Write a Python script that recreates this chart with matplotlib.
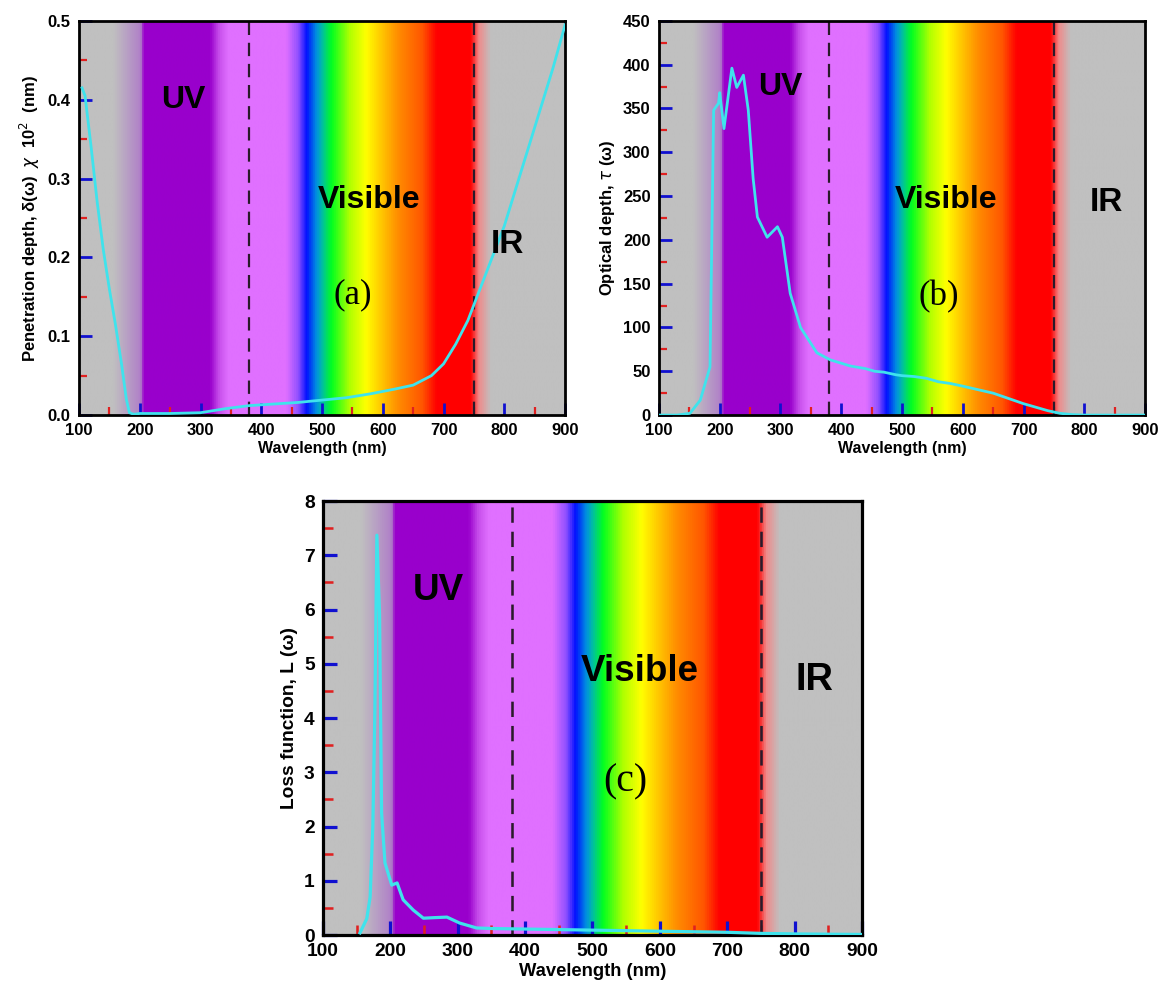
import numpy as np
import matplotlib
matplotlib.use("Agg")
import matplotlib.pyplot as plt
from matplotlib.colors import LinearSegmentedColormap
from matplotlib.ticker import MultipleLocator, FormatStrFormatter

plt.rcParams['font.family'] = ['Liberation Sans', 'DejaVu Sans']

# panel (a): penetration depth
wl_a = [105, 110, 120, 130, 140, 150, 160, 170, 178, 183, 190, 200, 250, 300, 340,
        380, 420, 460, 500, 540, 580, 620, 650, 680, 700, 720, 740, 760, 780, 800,
        820, 840, 860, 880, 900]
pd_a = [0.415, 0.405, 0.34, 0.27, 0.21, 0.16, 0.115, 0.065, 0.02, 0.003, 0.001, 0.002,
        0.002, 0.003, 0.008, 0.012, 0.014, 0.016, 0.019, 0.022, 0.027, 0.033, 0.038,
        0.05, 0.065, 0.09, 0.12, 0.16, 0.2, 0.24, 0.29, 0.34, 0.39, 0.44, 0.495]

# panel (b): optical depth
wl_b = [100, 130, 151, 168, 184, 190, 198, 200, 207, 220, 228, 239, 247, 255, 262, 278,
        295, 303, 316, 333, 360, 382, 415, 440, 455, 470, 490, 500, 520, 540, 560, 580,
        600, 650, 700, 740, 760, 780, 800, 900]
od_b = [0, 0, 2, 17, 55, 348, 356, 368, 327, 396, 374, 388, 348, 270, 226, 203, 215, 203,
        139, 100, 71, 63, 56, 53, 50, 49, 46, 45, 44, 42, 38, 36, 33, 25, 13, 5, 2, 0.5,
        0, 0]

# panel (c): loss function
wl_c = [155, 165, 170, 174, 177, 180, 184, 187, 192, 202, 210, 219, 234, 249, 265, 284,
        303, 328, 350, 400, 500, 600, 700, 750, 800, 900]
lf_c = [0.04, 0.3, 0.7, 2.0, 4.1, 7.37, 5.9, 2.25, 1.33, 0.92, 0.96, 0.65, 0.46, 0.31,
        0.32, 0.33, 0.22, 0.13, 0.12, 0.11, 0.09, 0.07, 0.05, 0.03, 0.02, 0.01]

# spectrum background stops (nm, colour)
spec_nm = [100, 155, 200, 205, 315, 330, 345, 440, 460, 474, 490, 500, 515, 545, 572,
           595, 625, 665, 688, 745, 758, 778, 900]
spec_col = ['#c0c0c0', '#c0c0c0', '#b080c8', '#9900cc', '#9900cc', '#c850ec', '#e070ff',
            '#e070ff', '#9050ff', '#0010ff', '#0090e0', '#00c0a0', '#00ff20', '#b0ff00',
            '#ffff00', '#ffcc00', '#ff8c00', '#ff5500', '#ff0000', '#ff0000', '#f08a8a',
            '#c0c0c0', '#c0c0c0']

cmap = LinearSegmentedColormap.from_list(
    'spec', [((n - 100) / 800, c) for n, c in zip(spec_nm, spec_col)])
grad = np.linspace(0, 1, 1600).reshape(1, -1)


def panel(rect, x, y, ymax, ymaj, ylabel, fmt, texts, k=1.0):
    ax = fig.add_axes(rect)
    ax.imshow(grad, cmap=cmap, aspect='auto', extent=[100, 900, 0, ymax], zorder=0)
    for xv in (380, 750):
        ax.axvline(xv, color='#2a1a2a', ls=(0, (6, 3.5)), lw=1.6 * k, zorder=2)
    ax.plot(x, y, color='#3fe3ec', lw=2 * k, zorder=3)
    ax.set_xlim(100, 900)
    ax.set_ylim(0, ymax)
    ax.xaxis.set_major_locator(MultipleLocator(100))
    ax.xaxis.set_minor_locator(MultipleLocator(50))
    ax.yaxis.set_major_locator(MultipleLocator(ymaj))
    ax.yaxis.set_minor_locator(MultipleLocator(ymaj / 2))
    ax.yaxis.set_major_formatter(FormatStrFormatter(fmt))
    ax.tick_params(which='major', direction='in', length=9 * k, width=2 * k, color='#1010d0',
                   top=False, right=False, labelsize=12 * k, pad=6)
    ax.tick_params(which='minor', direction='in', length=6 * k, width=1.6 * k, color='#e02020',
                   top=False, right=False)
    for lab in ax.get_xticklabels() + ax.get_yticklabels():
        lab.set_fontweight('bold')
    for s in ax.spines.values():
        s.set_linewidth(2 * k)
    ax.set_xlabel('Wavelength (nm)', fontsize=11.5 * k, fontweight='bold', labelpad=2)
    ax.set_ylabel(ylabel, fontsize=12 * k, fontweight='bold', labelpad=4)
    (ux, uy), (vx, vy), (ix, iy), (lx, ly, lt) = texts
    big = 23 * k
    ax.text(ux, uy, 'UV', fontsize=big, fontweight='bold', ha='center', va='center', zorder=4)
    ax.text(vx, vy, 'Visible', fontsize=big, fontweight='bold', ha='center', va='center', zorder=4)
    ax.text(ix, iy, 'IR', fontsize=big + 1, fontweight='bold', ha='center', va='center', zorder=4)
    ax.text(lx, ly, lt, fontsize=25 * k, family='Liberation Serif', ha='center', va='center',
            zorder=4)
    return ax


fig = plt.figure(figsize=(11.63, 9.93), dpi=100)

panel([0.0679, 0.582, 0.418, 0.397], wl_a, pd_a, 0.5, 0.1,
      r'Penetration depth, δ(ω)  $\chi$  10$^2$  (nm)', '%.1f',
      [(272, 0.40), (578, 0.273), (805, 0.216), (550, 0.152, '(a)')])
panel([0.5666, 0.582, 0.418, 0.397], wl_b, od_b, 450, 50,
      r'Optical depth, $\tau$ (ω)', '%d',
      [(300, 375), (572, 245), (836, 243), (560, 135, '(b)')])
panel([0.2777, 0.0584, 0.4635, 0.437], wl_c, lf_c, 8, 1,
      'Loss function, L (ω)', '%d',
      [(271, 6.36), (570, 4.85), (830, 4.7), (548, 2.82, '(c)')], k=1.15)

fig.savefig('out.png', dpi=100)
